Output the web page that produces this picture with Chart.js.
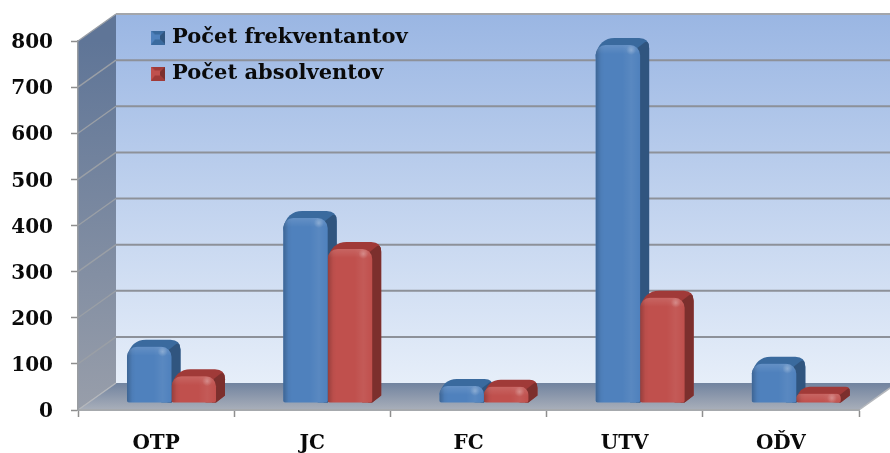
<!DOCTYPE html>
<html><head><meta charset="utf-8">
<style>html,body{margin:0;padding:0;background:#fff}canvas{display:block;filter:blur(0.45px)}</style>
<script src="https://cdn.jsdelivr.net/npm/chart.js@4"></script>
</head><body><canvas id="c" width="890" height="453"></canvas>
<script>
const categories = ['OTP','JC','FC','UTV','OĎV'];
const frekventanti = [122,401,37,776,85];
const absolventi = [58,334,35,228,20];
const seriesNames = ['Počet frekventantov','Počet absolventov'];
const FONT = '"DejaVu Serif"';
const WALL = {dx:38, dy:-27};
const BAR = {ox:15.4, oy:-7, dx:9, dy:-7, r:10};
const TONES = [{front:'#4f81bd',top:'#3a6a9e',side:'#30557f'},{front:'#c0504d',top:'#a03a38',side:'#7c2f2d'}];

function marker(tone){
  const c=document.createElement('canvas');c.width=14;c.height=14;const g=c.getContext('2d');
  g.fillStyle=tone.front;g.fillRect(0,0,14,14);
  g.fillStyle=tone.side;g.beginPath();g.moveTo(14,0);g.lineTo(14,14);g.lineTo(9,9);g.lineTo(9,5);g.fill();
  g.fillStyle=tone.top;g.beginPath();g.moveTo(0,14);g.lineTo(14,14);g.lineTo(9,9);g.lineTo(4,9);g.fill();
  g.fillStyle=tone.top;g.beginPath();g.moveTo(0,0);g.lineTo(14,0);g.lineTo(9,4);g.lineTo(4,4);g.fill();
  return c;
}
const markers = TONES.map(marker);

const scene = {
  id:'scene',
  afterLayout(chart){
    const l=chart.legend; l.left=139.5; l.top=12;
  },
  beforeDraw(chart){
    const {ctx,chartArea:a,scales:{y}}=chart; const W=chart.width;
    const bx=a.left+WALL.dx, ty=a.top+WALL.dy, by=a.bottom+WALL.dy;
    ctx.save();
    let g=ctx.createLinearGradient(0,ty,0,by);
    g.addColorStop(0,'#9ab6e3');g.addColorStop(1,'#e6eef9');
    ctx.fillStyle=g;ctx.fillRect(bx,ty,W-bx,by-ty);
    g=ctx.createLinearGradient(0,a.top,0,a.bottom);
    g.addColorStop(0,'#5f7597');g.addColorStop(1,'#989eaa');
    ctx.fillStyle=g;ctx.beginPath();ctx.moveTo(a.left,a.top);ctx.lineTo(bx,ty);ctx.lineTo(bx,by);ctx.lineTo(a.left,a.bottom);ctx.closePath();ctx.fill();
    y.ticks.forEach(t=>{
      const py=y.getPixelForValue(t.value);
      ctx.strokeStyle='#9a9fa6';ctx.lineWidth=1.4;
      ctx.beginPath();ctx.moveTo(a.left,py);ctx.lineTo(bx,py+WALL.dy);ctx.stroke();
      if(t.value>0){ctx.strokeStyle=t.value===800?'#a3a6ab':'#8d9199';ctx.lineWidth=2;ctx.beginPath();ctx.moveTo(bx,py+WALL.dy);ctx.lineTo(W,py+WALL.dy);ctx.stroke();}
    });
    g=ctx.createLinearGradient(0,by,0,a.bottom);
    g.addColorStop(0,'#71839f');g.addColorStop(1,'#a9afba');
    ctx.fillStyle=g;ctx.beginPath();ctx.moveTo(a.left,a.bottom);ctx.lineTo(bx,by);ctx.lineTo(W,by);
    ctx.lineTo(W,a.bottom+(W-a.right)*WALL.dy/WALL.dx);ctx.lineTo(a.right,a.bottom);ctx.closePath();ctx.fill();
    ctx.fillStyle='#fff';ctx.beginPath();ctx.moveTo(a.right,a.bottom);ctx.lineTo(W,a.bottom+(W-a.right)*WALL.dy/WALL.dx);ctx.lineTo(W,chart.height);ctx.lineTo(a.right,chart.height);ctx.closePath();ctx.fill();
    ctx.strokeStyle='#b4b7bc';ctx.lineWidth=1.5;ctx.beginPath();ctx.moveTo(a.right,a.bottom);ctx.lineTo(W,a.bottom+(W-a.right)*WALL.dy/WALL.dx);ctx.stroke();
    ctx.beginPath();ctx.moveTo(a.left,a.bottom);ctx.lineTo(bx,by);ctx.stroke();
    ctx.restore();
  },
  beforeDatasetsDraw(chart){
    const ctx=chart.ctx;
    ctx.save();ctx.translate(BAR.ox,BAR.oy);
    [0,1].forEach(i=>{
      chart.getDatasetMeta(i).data.forEach(b=>{
        const x1=b.x-b.width/2,x2=b.x+b.width/2,top=b.y,base=b.base;
        const r=Math.min(BAR.r,(base-top)/2);
        const path=new Path2D();
        path.moveTo(x1,top+r);
        path.quadraticCurveTo(x1+BAR.dx*0.45,top+BAR.dy,x1+BAR.dx+r,top+BAR.dy);
        path.lineTo(x2+BAR.dx-r,top+BAR.dy);
        path.quadraticCurveTo(x2+BAR.dx,top+BAR.dy,x2+BAR.dx,top+BAR.dy+r);
        path.lineTo(x2+BAR.dx,base+BAR.dy);
        path.lineTo(x2,base);
        path.lineTo(x2-r,base);
        path.closePath();
        ctx.fillStyle=TONES[i].top;ctx.fill(path);
        ctx.save();ctx.clip(path);
        ctx.fillStyle=TONES[i].side;
        ctx.beginPath();ctx.moveTo(x2-r*.4,top+r*.4);ctx.lineTo(x2+BAR.dx-r*.4,top+BAR.dy+r*.4);
        ctx.lineTo(x2+BAR.dx+1,top+BAR.dy+r*.4);ctx.lineTo(x2+BAR.dx+1,base+1);ctx.lineTo(x2-r*.4,base+1);ctx.closePath();ctx.fill();
        ctx.restore();
      });
    });
  },
  afterDatasetsDraw(chart){
    const ctx=chart.ctx;
    [1,0].forEach(i=>{
      chart.getDatasetMeta(i).data.forEach(b=>{
        const x1=b.x-b.width/2,w=b.width,top=b.y,h=b.base-b.y;
        const r=Math.min(BAR.r,h/2);
        ctx.save();
        ctx.beginPath();ctx.roundRect(x1,top,w,h,[r,r,2,2]);ctx.clip();
        let g=ctx.createLinearGradient(x1,0,x1+w,0);
        g.addColorStop(0,'rgba(0,0,0,.22)');g.addColorStop(.12,'rgba(0,0,0,.03)');g.addColorStop(.2,'rgba(0,0,0,0)');
        g.addColorStop(.6,'rgba(255,255,255,0)');g.addColorStop(.8,'rgba(255,255,255,.06)');g.addColorStop(1,'rgba(255,255,255,0)');
        ctx.fillStyle=g;ctx.fillRect(x1,top,w,h);
        g=ctx.createLinearGradient(0,top,0,top+Math.min(9,h));
        g.addColorStop(0,'rgba(255,255,255,.12)');g.addColorStop(1,'rgba(255,255,255,0)');
        ctx.fillStyle=g;ctx.fillRect(x1,top,w,Math.min(9,h));
        const sx=x1+w*.8,sy=top+Math.min(5,h/2);
        g=ctx.createRadialGradient(sx,sy,0,sx,sy,5);
        g.addColorStop(0,'rgba(255,255,255,.26)');g.addColorStop(1,'rgba(255,255,255,0)');
        ctx.fillStyle=g;ctx.fillRect(sx-6,sy-6,12,12);
        ctx.restore();
      });
    });
    ctx.restore();
  }
};

new Chart(document.getElementById('c'),{
  type:'bar',
  data:{labels:categories,datasets:[
    {label:seriesNames[0],data:frekventanti,backgroundColor:TONES[0].front,clip:false,pointStyle:markers[0]},
    {label:seriesNames[1],data:absolventi,backgroundColor:TONES[1].front,clip:false,pointStyle:markers[1]}
  ]},
  plugins:[scene],
  options:{
    responsive:false,animation:false,
    layout:{padding:{top:41,right:31,left:0,bottom:0}},
    datasets:{bar:{categoryPercentage:.57,barPercentage:1,borderSkipped:false,
      borderRadius:{topLeft:BAR.r,topRight:BAR.r,bottomLeft:2,bottomRight:2}}},
    plugins:{
      tooltip:{enabled:false},
      legend:{position:'chartArea',align:'start',
        labels:{usePointStyle:true,pointStyleWidth:7,boxHeight:14,padding:15,color:'#0a0a0a',
          font:{family:FONT,weight:'bold',size:21}}}
    },
    scales:{
      x:{
        afterFit(s){s.height=43;},
        grid:{drawOnChartArea:false,drawTicks:true,tickLength:7,tickColor:'#8e8e8e',tickWidth:1.5},
        border:{color:'#a6a9ad',width:2},
        ticks:{color:'#0a0a0a',padding:15,maxRotation:0,font:{family:FONT,weight:'bold',size:20}}
      },
      y:{
        min:0,max:800,
        afterFit(s){s.width=78;},
        grid:{drawOnChartArea:false,drawTicks:true,tickLength:7,tickColor:'#8e8e8e',tickWidth:1.5},
        border:{color:'#9a9da1',width:1.5},
        ticks:{stepSize:100,color:'#0a0a0a',padding:18,labelOffset:2,font:{family:FONT,weight:'bold',size:20}}
      }
    }
  }
});
</script></body></html>
